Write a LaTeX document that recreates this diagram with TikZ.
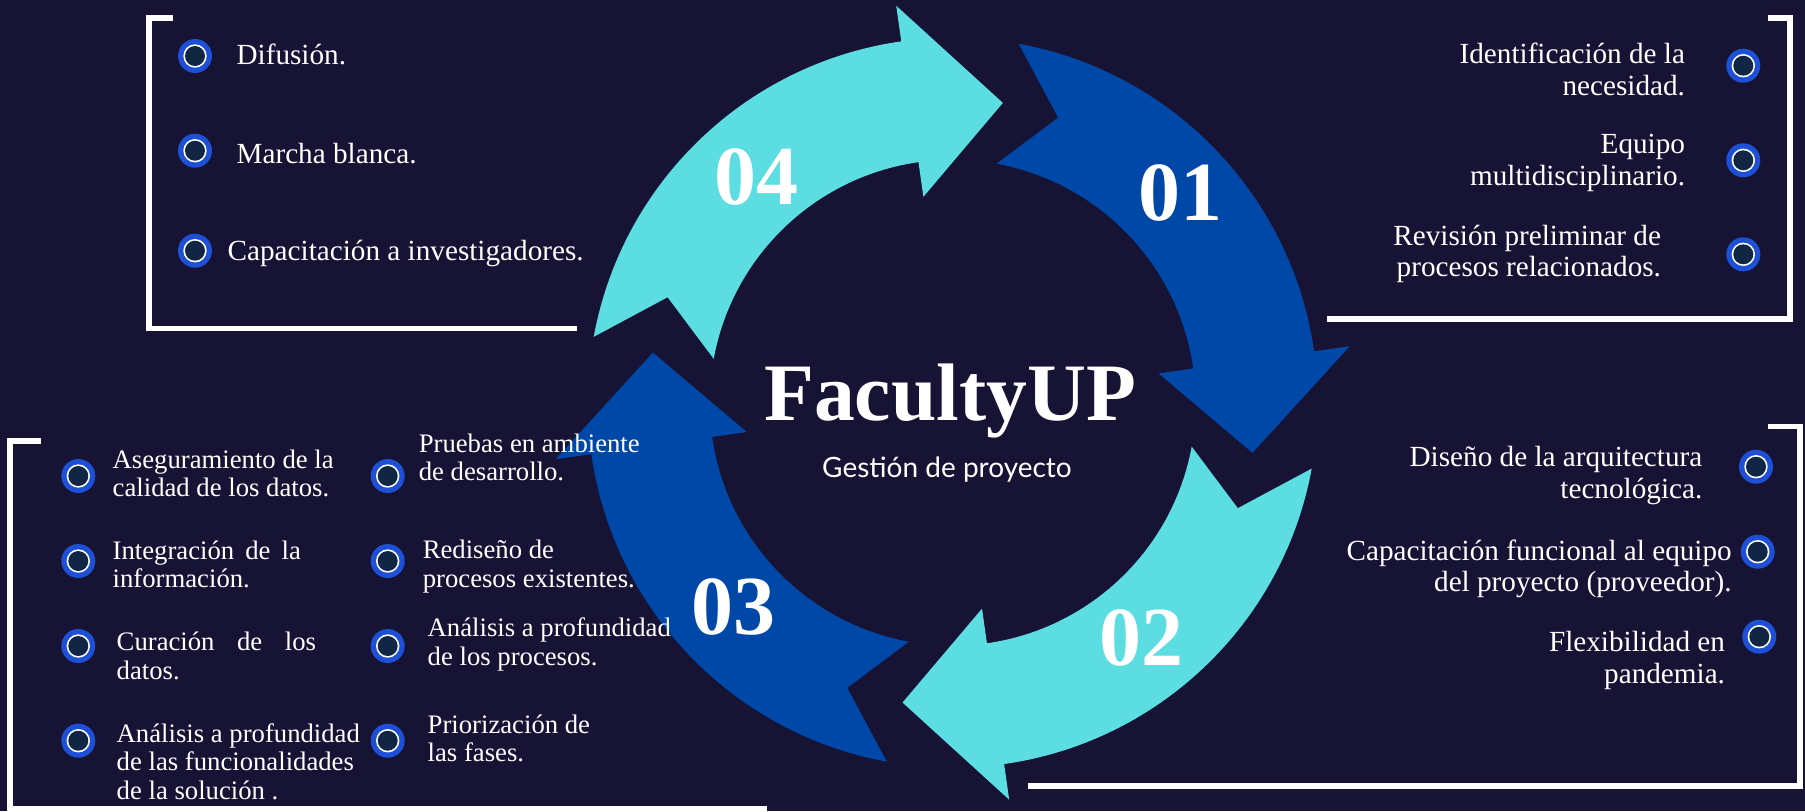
\documentclass[tikz,border=0pt]{standalone}
\usepackage{fontspec}
\setmainfont{Liberation Serif}
\newfontfamily\gestfont{Lato}
\definecolor{bgc}{HTML}{171334}
\definecolor{darkb}{HTML}{0048A8}
\definecolor{cyanc}{HTML}{5BDDE1}
\definecolor{ringc}{HTML}{1E50D7}
\definecolor{bulfill}{HTML}{102644}
\begin{document}
\begin{tikzpicture}[x=0.5pt, y=-0.5pt,
  txt/.style={text=white, inner sep=0pt, outer sep=0pt, font=\fontsize{14.6}{15.85}\selectfont},
  txtr/.style={txt, align=right, anchor=base east},
  txtl/.style={txt, align=left, anchor=base west},
  txts/.style={txt, align=left, anchor=base west, font=\fontsize{13.35}{14.2}\selectfont},
  bullet/.style={circle, fill=ringc, inner sep=0pt, minimum size=17pt,
    path picture={\fill[white] (path picture bounding box.center) circle (5.85pt);
                  \fill[bulfill] (path picture bounding box.center) circle (5pt);}},
  bracket/.style={draw=white, line width=2.75pt, line join=miter},
  num/.style={text=white, inner sep=0pt, font=\bfseries\fontsize{42}{42}\selectfont},
  ringarrow/.pic={\path[pic actions] (79.6:365) -- (69.7:304) -- (79.6:243)
      arc[start angle=79.6, end angle=8.1, radius=243] -- (8.1:208) -- (-9.5:304)
      -- (8.1:401) -- (8.1:365) arc[start angle=8.1, end angle=79.6, radius=365] -- cycle;}
]
\fill[bgc] (0,0) rectangle (1805,811);
\useasboundingbox (0,0) rectangle (1805,811);

% ring of arrows
\coordinate (C) at (952.7,402.7);
\pic[fill=darkb, yscale=-1] at (C) {ringarrow};
\pic[fill=cyanc, yscale=-1, rotate=-90] at (C) {ringarrow};
\pic[fill=darkb, yscale=-1, rotate=-180] at (C) {ringarrow};
\pic[fill=cyanc, yscale=-1, rotate=-270] at (C) {ringarrow};

\node[num] (n01) at (1180,193.3) {01};
\node[num] (n02) at (1141.7,638.3) {02};
\node[num] (n03) at (733.3,606.7) {03};
\node[num] (n04) at (756.7,176.7) {04};

\node[text=white, inner sep=0pt, anchor=base, font=\bfseries\fontsize{40.8}{40.8}\selectfont] (title) at (950,420) {FacultyUP};
\node[text=white, inner sep=0pt, anchor=base, font=\gestfont\fontsize{14}{14}\selectfont] (sub) at (947,477) {Gestión de proyecto};

% brackets
\draw[bracket] (172.8,17.8) -- (149,17.8) -- (149,328.3) -- (577.2,328.3);
\draw[bracket] (1768,17.8) -- (1790,17.8) -- (1790,319) -- (1326.7,319);
\draw[bracket] (1767.7,426.3) -- (1800.2,426.3) -- (1800.2,786) -- (1028,786);
\draw[bracket] (41,441.2) -- (10,441.2) -- (10,808.5) -- (766.7,808.5);

% top-left
\node[bullet] (b41) at (195,56) {};
\node[bullet] (b42) at (195,150.7) {};
\node[bullet] (b43) at (195,250.7) {};
\node[txtl] (t41) at (236.6,64) {Difusión.};
\node[txtl] (t42) at (236.6,163) {Marcha blanca.};
\node[txtl] (t43) at (227.7,260.7) {Capacitación a investigadores.};

% top-right (anchor = baseline of last line)
\node[bullet] (b11) at (1743.3,65.7) {};
\node[bullet] (b12) at (1743.3,160.3) {};
\node[bullet] (b13) at (1743.3,254.3) {};
\node[txtr] (t11) at (1685,95) {Identificación de la\\necesidad.};
\node[txtr] (t12) at (1685,185) {Equipo\\multidisciplinario.};
\node[txtr] (t13) at (1661,276.7) {Revisión preliminar de\\procesos relacionados.};

% bottom-right
\node[bullet] (b21) at (1756,466.7) {};
\node[bullet] (b22) at (1757.7,551.7) {};
\node[bullet] (b23) at (1759.3,636.7) {};
\node[txtr] (t21) at (1702.3,498.3) {Diseño de la arquitectura\\tecnológica.};
\node[txtr] (t22) at (1731.7,591.7) {Capacitación funcional al equipo\\del proyecto (proveedor).};
\node[txtr] (t23) at (1725,683.3) {Flexibilidad en\\pandemia.};

% bottom-left, column 1
\node[bullet] (b31) at (78.3,476) {};
\node[bullet] (b32) at (78.3,561) {};
\node[bullet] (b33) at (78.3,646) {};
\node[bullet] (b34) at (78.3,740.7) {};
\node[txts] (t31) at (112.7,496.7) {Aseguramiento de la\\calidad de los datos.};
\node[txts] (t32) at (112.7,587.7) {\hbox to 94.15pt{Integración\hfil de\hfil la}\\información.};
\node[txts] (t33) at (116.7,679.3) {\hbox to 99.65pt{Curación\hfil de\hfil los}\\datos.};
\node[txts] (t34) at (116.7,799) {Análisis a profundidad\\de las funcionalidades\\de la solución .};

% bottom-left, column 2
\node[bullet] (b35) at (387.7,476) {};
\node[bullet] (b36) at (387.7,561) {};
\node[bullet] (b37) at (387.7,646) {};
\node[bullet] (b38) at (387.7,740.7) {};
\node[txts] (t35) at (418.8,480.7) {Pruebas en ambiente\\de desarrollo.};
\node[txts] (t36) at (422.8,587.3) {Rediseño de\\procesos existentes.};
\node[txts] (t37) at (427.7,665) {Análisis a profundidad\\de los procesos.};
\node[txts] (t38) at (427.7,761.7) {Priorización de\\las fases.};
\end{tikzpicture}
\end{document}
